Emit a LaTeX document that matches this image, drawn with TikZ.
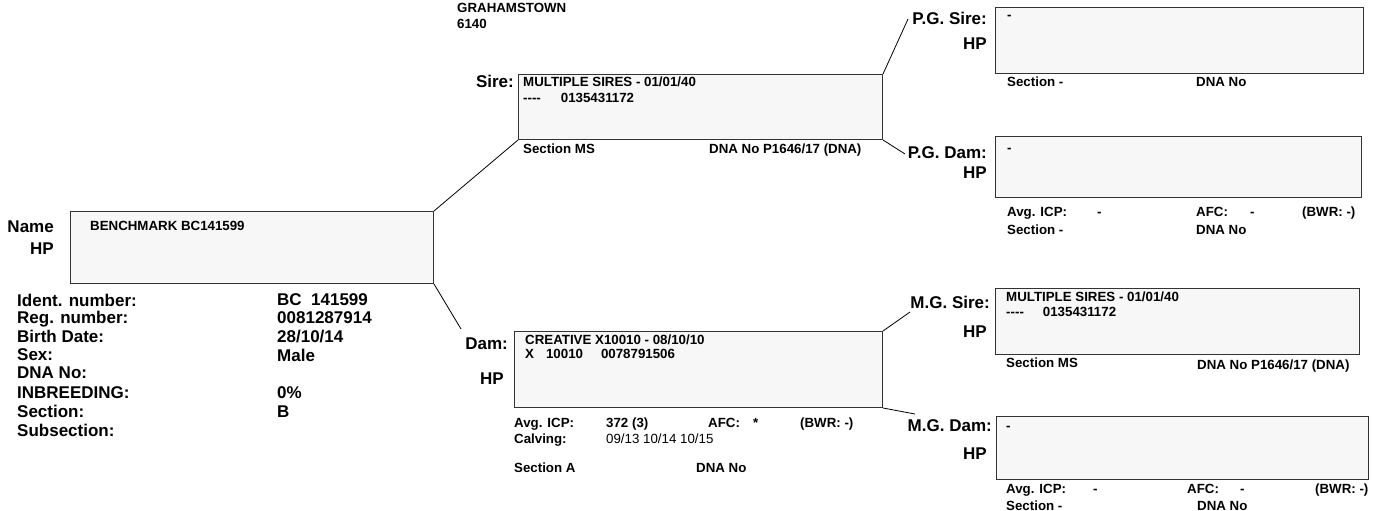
\documentclass[tikz,border=0pt]{standalone}
\usepackage{fontspec}
\setmainfont{Liberation Sans}
\usetikzlibrary{positioning,calc}

\begin{document}
\begin{tikzpicture}[
  x=1pt,y=-1pt,
  animal/.style={draw=black!80,line width=1pt,fill=black!3,inner sep=0pt,anchor=north west},
  tag/.style={font=\fontsize{17}{20}\selectfont\bfseries,inner sep=0pt,anchor=base east},
  info/.style={font=\fontsize{17}{20}\selectfont\bfseries,inner sep=0pt,anchor=base west},
  txt/.style={font=\fontsize{13.3}{16}\selectfont\bfseries,inner sep=0pt,anchor=base west},
  link/.style={line width=0.8pt}
]
\useasboundingbox (0,0) rectangle (1373,511);

\node[txt] (town) at (457,13) {GRAHAMSTOWN};
\node[txt] (postcode) at (457,29) {6140};

% animal
\node[tag] (namelbl) at (54,232) {Name};
\node[tag] (namehp) at (54,254) {HP};
\node[animal,minimum width=363pt,minimum height=72pt] (calf) at (70,211) {};
\node[txt] (calfname) at (90,230) {BENCHMARK BC141599};

\node[info] (identl) at (17,306) {Ident. number:};
\node[info] (regl) at (17,323) {Reg. number:};
\node[info] (birthl) at (17,342) {Birth Date:};
\node[info] (sexl) at (17,360) {Sex:};
\node[info] (dnal) at (17,378) {DNA No:};
\node[info] (inbl) at (17,398) {INBREEDING:};
\node[info] (secl) at (17,417) {Section:};
\node[info] (subl) at (17,436) {Subsection:};
\node[info] (identv) at (277,305) {BC\ \ 141599};
\node[info] (regv) at (277,323) {0081287914};
\node[info] (birthv) at (277,342) {28/10/14};
\node[info] (sexv) at (277,361) {Male};
\node[info] (inbv) at (277,398) {0\%};
\node[info] (secv) at (277,417) {B};

% sire
\node[tag] (sirelbl) at (514,87) {Sire:};
\node[animal,minimum width=364pt,minimum height=65pt] (sire) at (518,74) {};
\node[txt] (sirename) at (523,86) {MULTIPLE SIRES - 01/01/40};
\node[txt] (sireid) at (523,102) {{-}{-}{-}{-}\hspace{20pt}0135431172};
\node[txt] (siresec) at (523,153) {Section MS};
\node[txt] (siredna) at (709,153) {DNA No P1646/17 (DNA)};

% dam
\node[tag] (damlbl) at (508,349) {Dam:};
\node[tag] (damhp) at (504,384) {HP};
\node[animal,minimum width=368pt,minimum height=76pt] (dam) at (514,331) {};
\node[txt] (damname) at (525,344) {CREATIVE X10010 - 08/10/10};
\node[txt] (damid) at (525,358) {X\hspace{12pt}10010\hspace{18pt}0078791506};
\node[txt] (damicp) at (514,427) {Avg. ICP:};
\node[txt] (damicpv) at (606,427) {372 (3)};
\node[txt] (damafc) at (708,427) {AFC:};
\node[txt] (damafcv) at (753,427) {*};
\node[txt] (dambwr) at (800,427) {(BWR: -)};
\node[txt] (damcalv) at (514,443) {Calving:};
\node[txt,font=\fontsize{13.3}{16}\selectfont] (damcalvv) at (606,443) {09/13 10/14 10/15};
\node[txt] (damsec) at (514,472) {Section A};
\node[txt] (damdna) at (696,472) {DNA No};

% paternal grandsire
\node[tag] (pgslbl) at (987,25) {P.G. Sire:};
\node[tag] (pgshp) at (987,49) {HP};
\node[animal,minimum width=368pt,minimum height=66pt] (pgsire) at (995,7) {};
\node[txt] (pgsname) at (1007,20) {-};
\node[txt] (pgssec) at (1007,86) {Section -};
\node[txt] (pgsdna) at (1196,86) {DNA No};

% paternal granddam
\node[tag] (pgdlbl) at (987,158) {P.G. Dam:};
\node[tag] (pgdhp) at (987,178) {HP};
\node[animal,minimum width=366pt,minimum height=61pt] (pgdam) at (995,136) {};
\node[txt] (pgdname) at (1007,152) {-};
\node[txt] (pgdicp) at (1007,216) {Avg. ICP:};
\node[txt] (pgdicpv) at (1097,216) {-};
\node[txt] (pgdafc) at (1196,216) {AFC:};
\node[txt] (pgdafcv) at (1250,216) {-};
\node[txt] (pgdbwr) at (1302,216) {(BWR: -)};
\node[txt] (pgdsec) at (1007,234) {Section -};
\node[txt] (pgddna) at (1196,234) {DNA No};

% maternal grandsire
\node[tag] (mgslbl) at (990,308) {M.G. Sire:};
\node[tag] (mgshp) at (987,337) {HP};
\node[animal,minimum width=364pt,minimum height=66pt] (mgsire) at (995,288) {};
\node[txt] (mgsname) at (1006,301) {MULTIPLE SIRES - 01/01/40};
\node[txt] (mgsid) at (1006,316) {{-}{-}{-}{-}\hspace{19pt}0135431172};
\node[txt] (mgssec) at (1006,367) {Section MS};
\node[txt] (mgsdna) at (1197,369) {DNA No P1646/17 (DNA)};

% maternal granddam
\node[tag] (mgdlbl) at (992,431) {M.G. Dam:};
\node[tag] (mgdhp) at (987,459) {HP};
\node[animal,minimum width=372pt,minimum height=63pt] (mgdam) at (996,416) {};
\node[txt] (mgdname) at (1006,430) {-};
\node[txt] (mgdicp) at (1006,493) {Avg. ICP:};
\node[txt] (mgdicpv) at (1093,493) {-};
\node[txt] (mgdafc) at (1187,493) {AFC:};
\node[txt] (mgdafcv) at (1240,493) {-};
\node[txt] (mgdbwr) at (1315,493) {(BWR: -)};
\node[txt] (mgdsec) at (1006,510) {Section -};
\node[txt] (mgddna) at (1197,510) {DNA No};

% connectors
\coordinate (damend) at (461,329);
\coordinate (pgsend) at (908,19);
\coordinate (pgdend) at (905,154);
\coordinate (mgsend) at (910,312);
\coordinate (mgdend) at (915,414);

\draw[link] (calf.north east) -- (sire.south west);
\draw[link] (calf.south east) -- (damend);
\draw[link] (sire.north east) -- (pgsend);
\draw[link] (sire.south east) -- (pgdend);
\draw[link] (dam.north east) -- (mgsend);
\draw[link] (dam.south east) -- (mgdend);
\end{tikzpicture}
\end{document}
